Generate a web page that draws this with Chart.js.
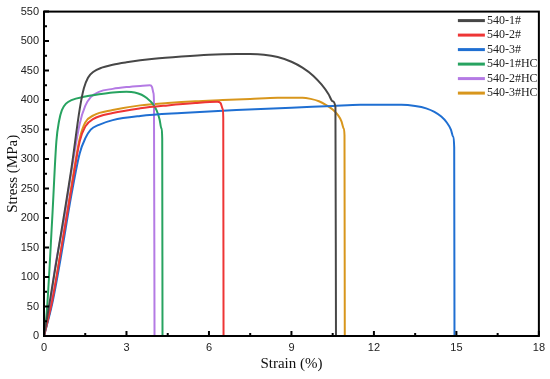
<!DOCTYPE html>
<html>
<head>
<meta charset="utf-8">
<script src="https://cdn.jsdelivr.net/npm/chart.js@4/dist/chart.umd.min.js"></script>
<style>
  body { margin: 0; background: #fff; }
  canvas { display: block; }
</style>
</head>
<body>
<canvas id="canvas" width="550" height="379"></canvas>
<script>
//****DATA****//

var labels = ['540-1#', '540-2#', '540-3#', '540-1#HC', '540-2#HC', '540-3#HC'];
var colors = ['#474747', '#ee3535', '#1f6fd2', '#27a360', '#b47ae4', '#d8961c'];

var strain1 = [0, 0.5, 1.0, 1.3, 1.45, 1.6, 1.8, 2.1, 2.5, 3.0, 4.0, 5.0, 6.0, 7.0, 7.5, 8.0, 8.5, 9.0, 9.4, 9.8, 10.1, 10.35, 10.5, 10.6, 10.62];
var stress1 = [0, 140, 285, 385, 420, 438, 448, 455, 460, 464, 470, 474, 477, 478, 478, 477, 473, 465, 455, 441, 426, 410, 398, 388, 0];

var strain2 = [0, 0.3, 0.6, 1.0, 1.3, 1.5, 1.8, 2.5, 3.5, 4.5, 5.5, 6.3, 6.42, 6.5, 6.52, 6.53];
var stress2 = [0, 60, 140, 250, 330, 355, 368, 378, 386, 391, 395, 397, 395, 385, 370, 0];

var strain3 = [0, 0.3, 0.6, 1.0, 1.3, 1.5, 1.7, 2.0, 2.5, 3.5, 5.0, 7.0, 9.0, 10.5, 11.5, 13.0, 13.5, 13.9, 14.2, 14.45, 14.65, 14.8, 14.88, 14.92, 14.93];
var stress3 = [0, 55, 130, 240, 310, 335, 350, 358, 366, 373, 378, 383, 387, 390, 392, 392, 390, 386, 380, 372, 362, 350, 338, 320, 0];

var strain4 = [0, 0.1, 0.3, 0.45, 0.55, 0.65, 0.8, 1.0, 1.5, 2.0, 2.5, 3.0, 3.3, 3.55, 3.75, 3.95, 4.1, 4.2, 4.27, 4.3, 4.31];
var stress4 = [0, 40, 200, 330, 365, 383, 394, 400, 406, 410, 413, 414, 413, 409, 403, 394, 382, 368, 352, 335, 0];

var strain5 = [0, 0.2, 0.4, 0.7, 1.0, 1.3, 1.5, 1.7, 2.0, 2.5, 3.0, 3.5, 3.85, 3.93, 3.98, 4.0, 4.02];
var stress5 = [0, 45, 115, 190, 280, 360, 390, 405, 414, 419, 422, 424, 425, 422, 412, 395, 0];

var strain6 = [0, 0.3, 0.6, 1.0, 1.3, 1.5, 1.8, 2.5, 3.5, 4.5, 5.5, 6.5, 7.5, 8.5, 9.4, 9.7, 10.0, 10.25, 10.5, 10.7, 10.82, 10.9, 10.93, 10.94];
var stress6 = [0, 60, 140, 255, 335, 362, 374, 383, 391, 395, 398, 400, 402, 404, 404, 402, 398, 392, 384, 374, 364, 352, 340, 0];

var allStrain = [strain1, strain2, strain3, strain4, strain5, strain6];
var allStress = [stress1, stress2, stress3, stress4, stress5, stress6];

var xTicks = [0, 3, 6, 9, 12, 15, 18];
var yTicks = [0, 50, 100, 150, 200, 250, 300, 350, 400, 450, 500, 550];

//****DATASETS****//

function makePoints(xs, ys) {
  var pts = [];
  for (var i = 0; i < xs.length; i++) {
    pts.push({ x: xs[i], y: ys[i] });
  }
  return pts;
}

var datasets = [];
for (var i = 0; i < labels.length; i++) {
  datasets.push({
    label: labels[i],
    data: makePoints(allStrain[i], allStress[i]),
    borderColor: colors[i],
    backgroundColor: colors[i],
    borderWidth: 2,
    pointRadius: 0,
    cubicInterpolationMode: 'monotone',
    fill: false
  });
}

//****PLUGINS****//

// frame + inward ticks
var framePlugin = {
  id: 'frame',
  afterDatasetsDraw: function (chart) {
    var ctx = chart.ctx;
    var area = chart.chartArea;
    var xs = chart.scales.x;
    var ys = chart.scales.y;
    ctx.save();
    ctx.strokeStyle = '#000';
    ctx.lineWidth = 2;
    ctx.beginPath();
    for (var v = 0; v <= 18; v += 1.5) {
      var px = xs.getPixelForValue(v);
      var len = (v % 3 === 0) ? 5 : 3;
      ctx.moveTo(px, area.bottom);
      ctx.lineTo(px, area.bottom - len);
    }
    for (var w = 0; w <= 550; w += 25) {
      var py = ys.getPixelForValue(w);
      var l2 = (w % 50 === 0) ? 5 : 3;
      ctx.moveTo(area.left, py);
      ctx.lineTo(area.left + l2, py);
    }
    ctx.stroke();
    ctx.strokeRect(area.left, area.top, area.right - area.left, area.bottom - area.top);
    ctx.restore();
  }
};

// legend in the top right corner
var legendPlugin = {
  id: 'cornerLegend',
  afterDraw: function (chart) {
    var ctx = chart.ctx;
    var area = chart.chartArea;
    ctx.save();
    ctx.font = '12px "Liberation Serif", "Times New Roman", serif';
    ctx.textBaseline = 'middle';
    ctx.lineWidth = 3;
    chart.data.datasets.forEach(function (ds, i) {
      var y = area.top + 9 + i * 14.5;
      ctx.strokeStyle = ds.borderColor;
      ctx.beginPath();
      ctx.moveTo(area.right - 81, y);
      ctx.lineTo(area.right - 54, y);
      ctx.stroke();
      ctx.fillStyle = '#222';
      ctx.fillText(ds.label, area.right - 52, y);
    });
    ctx.restore();
  }
};

//****CHART****//

var ctx = document.getElementById('canvas').getContext('2d');

var chart = new Chart(ctx, {
  type: 'line',
  data: { datasets: datasets },
  options: {
    responsive: false,
    devicePixelRatio: 1,
    animation: false,
    layout: { padding: { top: 7, right: 8, left: 0, bottom: 0 } },
    plugins: {
      legend: { display: false },
      tooltip: { enabled: false }
    },
    scales: {
      x: {
        type: 'linear',
        min: 0,
        max: 18,
        afterFit: function (s) { s.height = 43; },
        afterBuildTicks: function (s) {
          s.ticks = xTicks.map(function (v) { return { value: v }; });
        },
        grid: { display: false, drawTicks: false },
        border: { display: false },
        ticks: {
          padding: 5,
          color: '#222',
          font: { family: '"Liberation Sans", Arial, sans-serif', size: 11 }
        },
        title: {
          display: true,
          text: 'Strain (%)',
          color: '#111',
          padding: { top: 0, bottom: 6 },
          font: { family: '"Liberation Serif", "Times New Roman", serif', size: 15 }
        }
      },
      y: {
        type: 'linear',
        min: 0,
        max: 550,
        afterFit: function (s) { s.width = 44; },
        afterBuildTicks: function (s) {
          s.ticks = yTicks.map(function (v) { return { value: v }; });
        },
        grid: { display: false, drawTicks: false },
        border: { display: false },
        ticks: {
          padding: 5,
          color: '#222',
          font: { family: '"Liberation Sans", Arial, sans-serif', size: 11 }
        },
        title: {
          display: true,
          text: 'Stress (MPa)',
          color: '#111',
          padding: { top: 4, bottom: 0 },
          font: { family: '"Liberation Serif", "Times New Roman", serif', size: 15 }
        }
      }
    }
  },
  plugins: [framePlugin, legendPlugin]
});
</script>
</body>
</html>
